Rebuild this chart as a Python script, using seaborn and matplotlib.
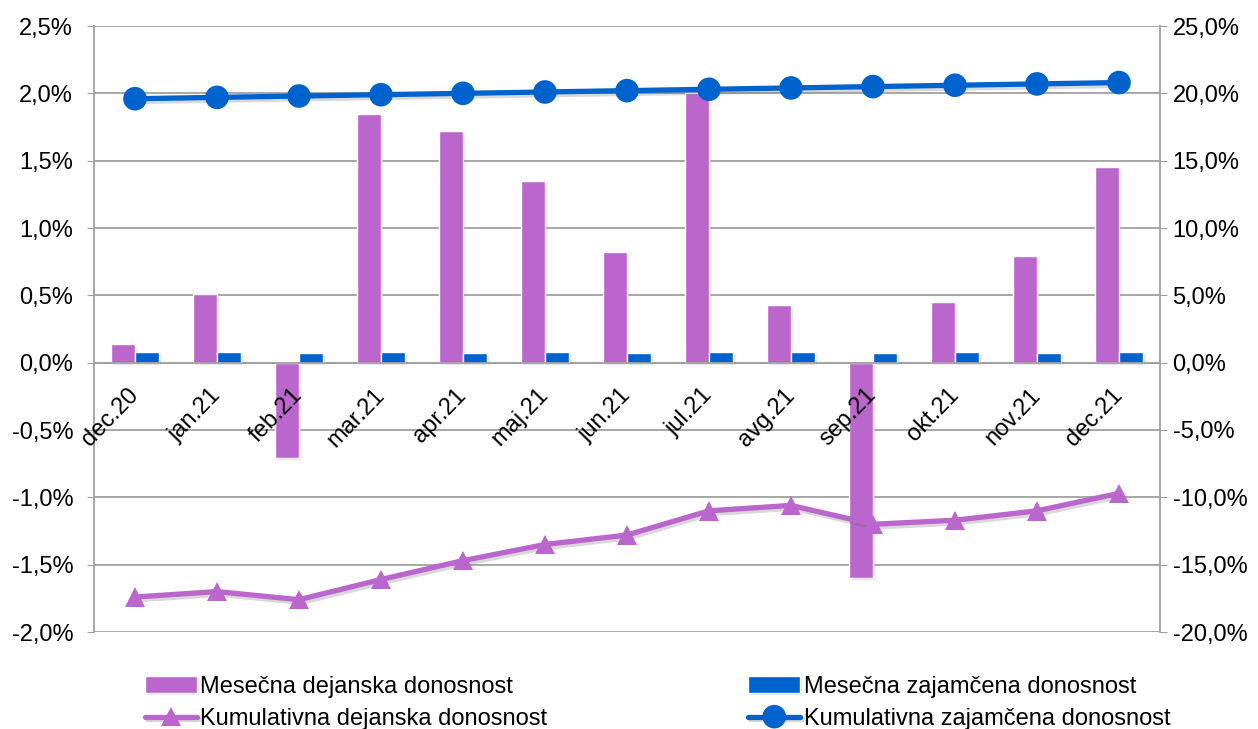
import matplotlib
matplotlib.use("Agg")
import matplotlib.pyplot as plt
import matplotlib.patheffects as pe
from matplotlib.ticker import FuncFormatter
import seaborn as sns
import pandas as pd
import numpy as np

# data
months = ["dec.20", "jan.21", "feb.21", "mar.21", "apr.21", "maj.21", "jun.21",
          "jul.21", "avg.21", "sep.21", "okt.21", "nov.21", "dec.21"]
mes_dej = [0.14, 0.51, -0.71, 1.85, 1.72, 1.35, 0.82, 2.00, 0.43, -1.60, 0.45, 0.79, 1.45]
mes_zaj = [0.08, 0.08, 0.07, 0.08, 0.07, 0.08, 0.07, 0.08, 0.08, 0.07, 0.08, 0.07, 0.08]
kum_dej = [-17.4, -17.0, -17.6, -16.1, -14.7, -13.5, -12.8, -11.0, -10.6, -12.0, -11.7, -11.0, -9.7]
kum_zaj = [19.6, 19.7, 19.8, 19.9, 20.0, 20.1, 20.2, 20.3, 20.4, 20.5, 20.6, 20.7, 20.8]

lab_mes_dej = "Mesečna dejanska donosnost"
lab_mes_zaj = "Mesečna zajamčena donosnost"
lab_kum_dej = "Kumulativna dejanska donosnost"
lab_kum_zaj = "Kumulativna zajamčena donosnost"

purple = "#BA66CC"
blue = "#0062CC"
grey = "#A0A0A0"

sns.set_style("white")
plt.rcParams["font.family"] = ["Liberation Sans", "DejaVu Sans"]
plt.rcParams["font.size"] = 17
plt.rcParams["text.color"] = "black"
plt.rcParams["xtick.labelcolor"] = "black"
plt.rcParams["ytick.labelcolor"] = "black"

bars = pd.DataFrame({
    "month": months * 2,
    "value": mes_dej + mes_zaj,
    "serija": [lab_mes_dej] * len(months) + [lab_mes_zaj] * len(months),
})
lines = pd.DataFrame({
    "month": months * 2,
    "value": kum_dej + kum_zaj,
    "serija": [lab_kum_dej] * len(months) + [lab_kum_zaj] * len(months),
})

fig = plt.figure(figsize=(12.58, 7.29), dpi=100)
ax = fig.add_axes([94 / 1258, 1 - 632 / 729, (1160 - 94) / 1258, (632 - 26) / 729])

sns.barplot(data=bars, x="month", y="value", hue="serija", palette=[purple, blue],
            width=0.58, gap=0, saturation=1, legend=False, ax=ax)
bar_shadow = [pe.SimplePatchShadow(offset=(1.5, -1.5), shadow_rgbFace="#888888", alpha=0.25), pe.Normal()]
for c in ax.containers:
    for p in c:
        p.set_path_effects(bar_shadow)

ax2 = ax.twinx()
sns.pointplot(data=lines, x="month", y="value", hue="serija", palette=[purple, blue],
              markers=["^", "o"], linestyles=["-", "-"], errorbar=None,
              dodge=False, legend=False, ax=ax2)
line_shadow = [pe.SimpleLineShadow(offset=(1.5, -2), shadow_color="#666666", alpha=0.25), pe.Normal()]
for ln, ms in zip(ax2.lines[:2], [14, 17]):
    ln.set_linewidth(3.8)
    ln.set_markersize(ms)
    ln.set_markeredgewidth(0)
    ln.set_path_effects(line_shadow)

# left axis
ax.set_ylim(-2.0, 2.5)
ax.set_yticks(np.arange(-2.0, 2.51, 0.5))
ax.yaxis.set_major_formatter(FuncFormatter(lambda v, p: f"{v:.1f}%".replace(".", ",")))
ax.set_xlim(-0.5, len(months) - 0.5)
ax.set_axisbelow(True)
ax.yaxis.grid(True, color=grey, linewidth=1.3)
ax.set_xlabel("")
ax.set_ylabel("")
for s in ["top", "right"]:
    ax.spines[s].set_visible(False)
ax.spines["left"].set_color(grey)
ax.spines["left"].set_linewidth(1.3)
ax.spines["bottom"].set_position(("data", 0))
ax.spines["bottom"].set_color(grey)
ax.spines["bottom"].set_linewidth(1.3)
ax.tick_params(axis="y", length=5, color=grey, pad=10, labelsize=17, labelcolor="black")
ax.set_xticks(np.arange(-0.5, len(months), 1), minor=True)
ax.tick_params(axis="x", which="major", length=0, labelbottom=False)
ax.tick_params(axis="x", which="minor", length=5, color=grey)

# right axis
ax2.set_ylim(-20, 25)
ax2.set_yticks(np.arange(-20, 25.1, 5))
ax2.yaxis.set_major_formatter(FuncFormatter(lambda v, p: f"{v:.1f}%".replace(".", ",")))
ax2.set_xlabel("")
ax2.set_ylabel("")
for s in ["top", "left"]:
    ax2.spines[s].set_visible(False)
ax2.spines["bottom"].set_position(("data", 0))
ax2.spines["bottom"].set_visible(False)
ax2.spines["right"].set_color(grey)
ax2.spines["right"].set_linewidth(1.3)
ax2.tick_params(axis="y", length=5, color=grey, pad=4, labelsize=17, labelcolor="black")

# month labels on the top axes so they sit over the bars
ax2.xaxis.set_visible(True)
ax2.set_xticks(np.arange(len(months)))
ax2.set_xticklabels(months, rotation=46, ha="right", va="center", rotation_mode="anchor")
ax2.tick_params(axis="x", which="major", length=0, pad=21, labelsize=17,
                labelbottom=True, labelcolor="black")
ax2.tick_params(axis="x", which="minor", bottom=False)
ax2.set_xlabel("")

# legend below
handles = [ax.containers[0], ax2.lines[0], ax.containers[1], ax2.lines[1]]
labels = [lab_mes_dej, lab_kum_dej, lab_mes_zaj, lab_kum_zaj]
fig.legend(handles, labels, loc="upper left", bbox_to_anchor=(145 / 1258, 1 - 676 / 729),
           ncol=2, frameon=False, fontsize=17, handlelength=2.2, handletextpad=0.15,
           columnspacing=8.5, labelspacing=0.42, borderpad=0, borderaxespad=0,
           labelcolor="black")

fig.savefig("out.png", dpi=100)
